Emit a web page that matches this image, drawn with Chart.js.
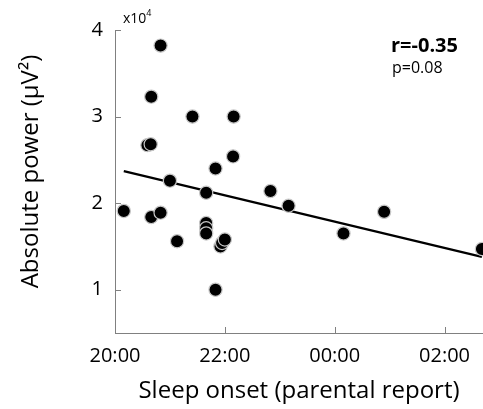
<!DOCTYPE html>
<html>
<head>
<meta charset="utf-8">
<script src="https://cdn.jsdelivr.net/npm/chart.js@4/dist/chart.umd.min.js"></script>
<style>
  html, body { margin: 0; padding: 0; background: #fff; }
  canvas { display: block; }
</style>
</head>
<body>
<canvas id="sleepChart" width="483" height="409"></canvas>
<script>
// sleep onset in hours (24+ = after midnight) and absolute power (x10^4 uV^2)
const onsetHours = [20.83, 20.66, 21.41, 22.16, 20.59, 20.65, 22.15, 21.83, 21.0, 21.66,
    20.16, 20.66, 20.83, 21.13, 21.66, 21.66, 21.66, 21.92, 21.95, 22.0,
    21.83, 22.83, 23.16, 24.16, 24.9, 26.68];
const absPower = [3.82, 3.23, 3.0, 3.0, 2.67, 2.68, 2.54, 2.40, 2.26, 2.12,
    1.91, 1.84, 1.89, 1.56, 1.77, 1.71, 1.65, 1.50, 1.54, 1.58,
    1.0, 2.14, 1.97, 1.65, 1.90, 1.47];

// regression line end points
const fitHours = [20.16, 26.68];
const fitPower = [2.37, 1.38];

const xTickValues = [20, 22, 24, 26];
const yTickValues = [1, 2, 3, 4];

const FONT = "'Open Sans', sans-serif";
const AXIS_GREY = '#808080';

const ctx = document.getElementById('sleepChart').getContext('2d');

function fmtClock(v) {
    return String(v % 24).padStart(2, '0') + ':00';
}

// inward tick marks, y title, x10^4 and the r/p labels
const extras = {
    id: 'extras',
    afterDraw(chart) {
        const c = chart.ctx;
        const { left, top, bottom } = chart.chartArea;
        const xs = chart.scales.x, ys = chart.scales.y;
        c.save();
        c.strokeStyle = AXIS_GREY;
        c.lineWidth = 1;
        c.beginPath();
        yTickValues.forEach(v => {
            const py = Math.round(ys.getPixelForValue(v)) + 0.5;
            c.moveTo(left, py);
            c.lineTo(left + 6, py);
        });
        xTickValues.forEach(v => {
            const px = Math.round(xs.getPixelForValue(v)) + 0.5;
            if (px - left < 2) return;
            c.moveTo(px, bottom);
            c.lineTo(px, bottom - 6);
        });
        c.stroke();

        c.fillStyle = '#000';

        // y axis title
        c.save();
        c.translate(31.5, 171.5);
        c.rotate(-Math.PI / 2);
        c.textAlign = 'center';
        c.textBaseline = 'middle';
        c.font = '24px ' + FONT;
        c.fillText('Absolute power (µV²)', 0, 0);
        c.restore();

        c.textBaseline = 'alphabetic';
        c.textAlign = 'left';
        c.font = '14px ' + FONT;
        c.fillText('x10', left + 8, top - 7);
        const w = c.measureText('x10').width;
        c.font = '9px ' + FONT;
        c.fillText('4', left + 8 + w, top - 14);

        c.font = 'bold 20px ' + FONT;
        c.fillText('r=-0.35', 391, 52);
        c.font = '16px ' + FONT;
        c.fillText('p=0.08', 392, 73);
        c.restore();
    }
};

new Chart(ctx, {
    type: 'scatter',
    data: {
        datasets: [
            {
                data: onsetHours.map((h, i) => ({ x: h, y: absPower[i] })),
                backgroundColor: '#000',
                borderColor: '#c8c8c8',
                borderWidth: 1.2,
                pointRadius: 6.6,
                clip: false,
                order: 1
            },
            {
                type: 'line',
                data: fitHours.map((h, i) => ({ x: h, y: fitPower[i] })),
                borderColor: '#000',
                borderWidth: 2.2,
                pointRadius: 0,
                fill: false,
                order: 2
            }
        ]
    },
    options: {
        responsive: false,
        animation: false,
        devicePixelRatio: 1,
        layout: { autoPadding: false, padding: { top: 30, right: 0, left: 0, bottom: 0 } },
        plugins: {
            legend: { display: false },
            tooltip: { enabled: false }
        },
        scales: {
            x: {
                type: 'linear',
                min: 20,
                max: 26.7,
                afterBuildTicks: s => { s.ticks = xTickValues.map(v => ({ value: v })); },
                afterFit: s => { s.height = 76; },
                grid: { display: false, drawTicks: false },
                border: { display: true, color: AXIS_GREY, width: 1 },
                ticks: {
                    color: '#000',
                    font: { family: FONT, size: 20 },
                    padding: 11,
                    maxRotation: 0,
                    callback: v => fmtClock(v)
                },
                title: {
                    display: true,
                    text: 'Sleep onset (parental report)',
                    color: '#000',
                    font: { family: FONT, size: 24 },
                    padding: { top: 0, bottom: 3 }
                }
            },
            y: {
                min: 0.5,
                max: 4,
                afterBuildTicks: s => { s.ticks = yTickValues.map(v => ({ value: v })); },
                afterFit: s => { s.width = 115; },
                grid: { display: false, drawTicks: false },
                border: { display: true, color: AXIS_GREY, width: 1 },
                ticks: {
                    color: '#000',
                    font: { family: FONT, size: 20 },
                    padding: 12
                },
                title: { display: false }
            }
        }
    },
    plugins: [extras]
});
</script>
</body>
</html>
